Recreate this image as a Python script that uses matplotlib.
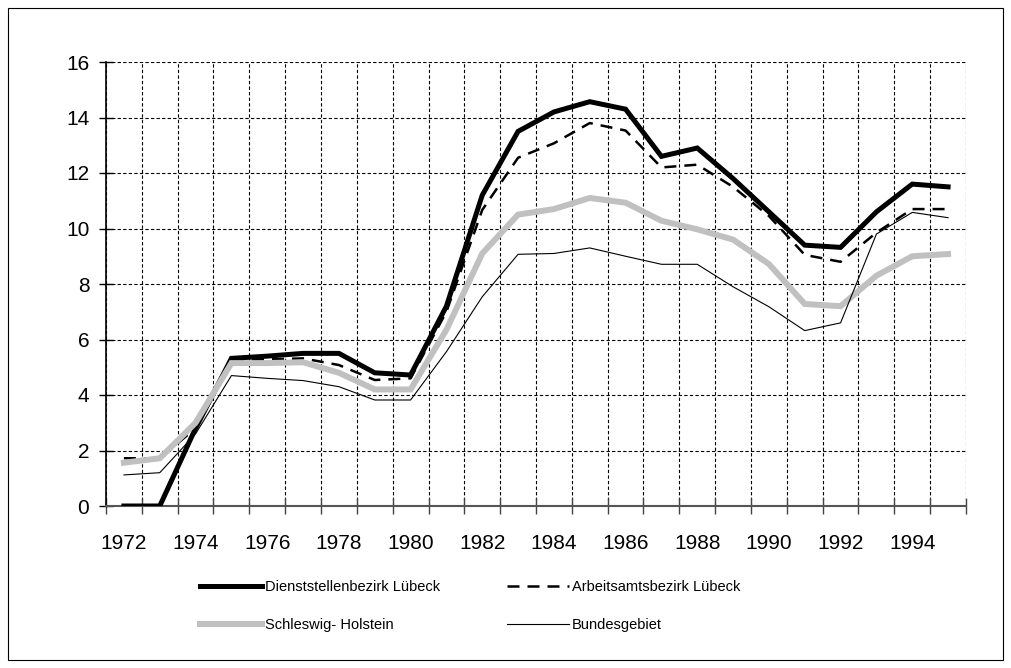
import numpy as np
import matplotlib
matplotlib.use("Agg")
import matplotlib.pyplot as plt
from matplotlib import font_manager
from matplotlib.patches import Rectangle

years = list(range(1972, 1996))
dienst = [0.0, 0.0, 2.8, 5.32, 5.4, 5.5, 5.5, 4.8, 4.72, 7.2, 11.2, 13.5, 14.2, 14.57,
          14.3, 12.6, 12.9, 11.8, 10.6, 9.4, 9.32, 10.6, 11.6, 11.5]
arbeit = [1.72, 1.72, 2.8, 5.25, 5.28, 5.32, 5.08, 4.54, 4.6, 7.0, 10.67, 12.55, 13.07, 13.8,
          13.53, 12.2, 12.3, 11.5, 10.45, 9.05, 8.8, 9.85, 10.7, 10.7]
sh = [1.56, 1.72, 3.0, 5.15, 5.15, 5.18, 4.8, 4.2, 4.2, 6.35, 9.1, 10.5, 10.7, 11.1,
      10.93, 10.28, 9.97, 9.6, 8.72, 7.28, 7.2, 8.3, 9.0, 9.08]
bund = [1.12, 1.2, 2.6, 4.7, 4.6, 4.52, 4.3, 3.82, 3.82, 5.56, 7.54, 9.07, 9.1, 9.3,
        9.0, 8.71, 8.71, 7.9, 7.18, 6.32, 6.6, 9.8, 10.58, 10.39]
labels = ["Dienststellenbezirk Lübeck", "Arbeitsamtsbezirk Lübeck",
          "Schleswig- Holstein", "Bundesgebiet"]

names = {f.name for f in font_manager.fontManager.ttflist}
if "Liberation Sans Narrow" in names:
    fam = "Liberation Sans Narrow"
    tick_fs, leg_fs = 17, 12
else:
    fam = "Liberation Sans"
    tick_fs, leg_fs = 15, 10.5
plt.rcParams['font.family'] = [fam, 'DejaVu Sans']

fig = plt.figure(figsize=(10.12, 6.68), dpi=100)
ax = fig.add_axes([106/1012, 1 - 506/668, 860/1012, 444/668])

x = np.arange(len(years))
ax.plot(x, dienst, color='black', lw=3.6, solid_joinstyle='miter', label=labels[0], zorder=3)
ax.plot(x, arbeit, color='black', lw=1.8, dashes=(4.8, 3.2), label=labels[1], zorder=4)
ax.plot(x, sh, color='#c0c0c0', lw=4.3, solid_joinstyle='miter', label=labels[2], zorder=5)
ax.plot(x, bund, color='black', lw=0.8, label=labels[3], zorder=6)

ax.set_xlim(-0.5, len(years) - 0.5)
ax.set_ylim(0, 16)
ax.set_yticks(np.arange(0, 17, 2))
ax.set_xticks(x[::2])
ax.set_xticklabels([str(y) for y in years[::2]])
ax.set_xticks(np.arange(-0.5, len(years), 1), minor=True)

ax.tick_params(axis='x', which='major', length=0, pad=20, labelsize=tick_fs)
ax.tick_params(axis='x', which='minor', direction='inout', length=11, width=1, color='#444444')
ax.tick_params(axis='y', direction='inout', length=10, width=1, pad=7, labelsize=tick_fs)

ax.grid(True, axis='y', color='black', lw=0.8, ls=(0, (3, 2)), zorder=1)
ax.grid(True, axis='x', which='minor', color='black', lw=0.8, ls=(0, (3, 2)), zorder=1)
ax.grid(False, axis='x', which='major')

for s in ['top', 'right']:
    ax.spines[s].set_visible(False)
ax.spines['left'].set_linewidth(1.2)
ax.spines['bottom'].set_color('#555555')
ax.spines['bottom'].set_linewidth(1.5)

h, l = ax.get_legend_handles_labels()
order = [0, 2, 1, 3]
ax.legend([h[i] for i in order], [l[i] for i in order], ncol=2, frameon=False,
          loc='upper left', bbox_to_anchor=(94/860, -0.166), fontsize=leg_fs,
          handlelength=4.25, handletextpad=0.2, columnspacing=4.6, labelspacing=1.65,
          borderaxespad=0, borderpad=0)

fig.patches.append(Rectangle((8/1012, 8/668), 995/1012, 652/668, transform=fig.transFigure,
                             fill=False, edgecolor='black', lw=0.8))

fig.savefig('out.png', dpi=100)
